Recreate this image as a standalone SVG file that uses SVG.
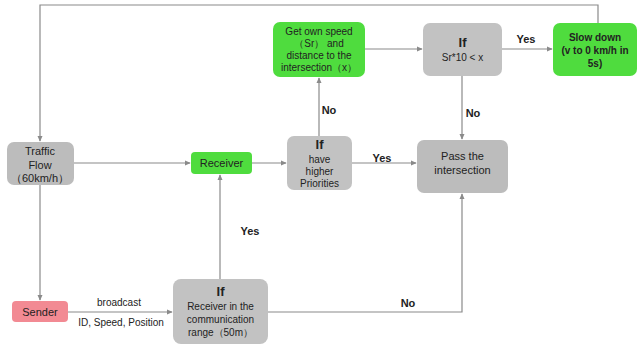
<svg xmlns="http://www.w3.org/2000/svg" width="637" height="347" viewBox="0 0 637 347">
<style>
text{font-family:"Liberation Sans",Arial,sans-serif;fill:#222;text-anchor:middle}
.t{font-size:11px}
.s{font-size:10px}
.b{font-weight:bold}
.h{font-size:13px;font-weight:bold}
.gray{fill:#c2c2c2}
.grayd{fill:#bcbcbc}
.green{fill:#4fdc3e}
.pink{fill:#f28a93}
.c{stroke:#8a8a8a;stroke-width:1.2;fill:none}
</style>
<defs>
<marker id="a" viewBox="0 0 8 8" refX="7" refY="4" markerWidth="6" markerHeight="6" orient="auto" markerUnits="userSpaceOnUse">
<path d="M0,0.5 L8,4 L0,7.5 Z" fill="#8a8a8a"/>
</marker>
</defs>
<rect width="637" height="347" fill="#fff"/>
<g id="connectors">
<path class="c" d="M598,23 V5 H40 V141" marker-end="url(#a)"/>
<path class="c" d="M74,163 H190" marker-end="url(#a)"/>
<path class="c" d="M252,163 H286" marker-end="url(#a)"/>
<path class="c" d="M352,163 H416" marker-end="url(#a)"/>
<path class="c" d="M319,136 V78" marker-end="url(#a)"/>
<path class="c" d="M365,49 H422" marker-end="url(#a)"/>
<path class="c" d="M502,49 H552" marker-end="url(#a)"/>
<path class="c" d="M462,76 V139" marker-end="url(#a)"/>
<path class="c" d="M40,185 V300" marker-end="url(#a)"/>
<path class="c" d="M68,312 H172" marker-end="url(#a)"/>
<path class="c" d="M220,279 V175" marker-end="url(#a)"/>
<path class="c" d="M268,312 H462 V194" marker-end="url(#a)"/>
<text class="t b" x="382" y="162">Yes</text>
<text class="t b" x="526" y="43">Yes</text>
<text class="t b" x="329" y="114">No</text>
<text class="t b" x="473" y="117">No</text>
<text class="t b" x="250" y="235">Yes</text>
<text class="t b" x="408" y="307">No</text>
<text class="s" x="119" y="306">broadcast</text>
<text class="s" x="121" y="326">ID, Speed, Position</text>
</g>
<g id="traffic-flow">
<rect class="grayd" x="7" y="142" width="67" height="43" rx="7"/>
<text class="t" x="40" y="155">Traffic</text>
<text class="t" x="40" y="168.5">Flow</text>
<text class="t" x="40" y="182">（60km/h）</text>
</g>
<g id="receiver">
<rect class="green" x="191" y="152" width="61" height="22" rx="4"/>
<text class="t" x="221.5" y="167">Receiver</text>
</g>
<g id="if-priorities">
<rect class="gray" x="287" y="136" width="65" height="54" rx="7"/>
<text class="h" x="319.5" y="149">If</text>
<text class="s" x="319.5" y="163">have</text>
<text class="s" x="319.5" y="175">higher</text>
<text class="s" x="319.5" y="187">Priorities</text>
</g>
<g id="pass">
<rect class="grayd" x="417" y="140" width="91" height="53" rx="7"/>
<text class="t" x="462.5" y="160">Pass the</text>
<text class="t" x="462.5" y="174">intersection</text>
</g>
<g id="get-speed">
<rect class="green" x="273" y="22" width="92" height="55" rx="7"/>
<text class="s" x="319" y="35">Get own speed</text>
<text class="s" x="319" y="47">（Sr） and</text>
<text class="s" x="319" y="59">distance to the</text>
<text class="s" x="319" y="71">intersection（x）</text>
</g>
<g id="if-sr">
<rect class="gray" x="423" y="23" width="79" height="53" rx="7"/>
<text class="h" x="462.5" y="47">If</text>
<text class="s" x="462.5" y="61">Sr*10 &lt; x</text>
</g>
<g id="slow-down">
<rect class="green" x="553" y="23" width="84" height="53" rx="7"/>
<text class="s b" x="595" y="41">Slow down</text>
<text class="s b" x="595" y="54">(v to 0 km/h in</text>
<text class="s b" x="595" y="67">5s)</text>
</g>
<g id="sender">
<rect class="pink" x="12" y="301" width="56" height="21" rx="4"/>
<text class="t" x="40" y="316">Sender</text>
</g>
<g id="if-range">
<rect class="gray" x="173" y="279" width="95" height="65" rx="8"/>
<text class="h" x="220.5" y="296">If</text>
<text class="s" x="220.5" y="310">Receiver in the</text>
<text class="s" x="220.5" y="323">communication</text>
<text class="s" x="220.5" y="336">range（50m）</text>
</g>
</svg>
